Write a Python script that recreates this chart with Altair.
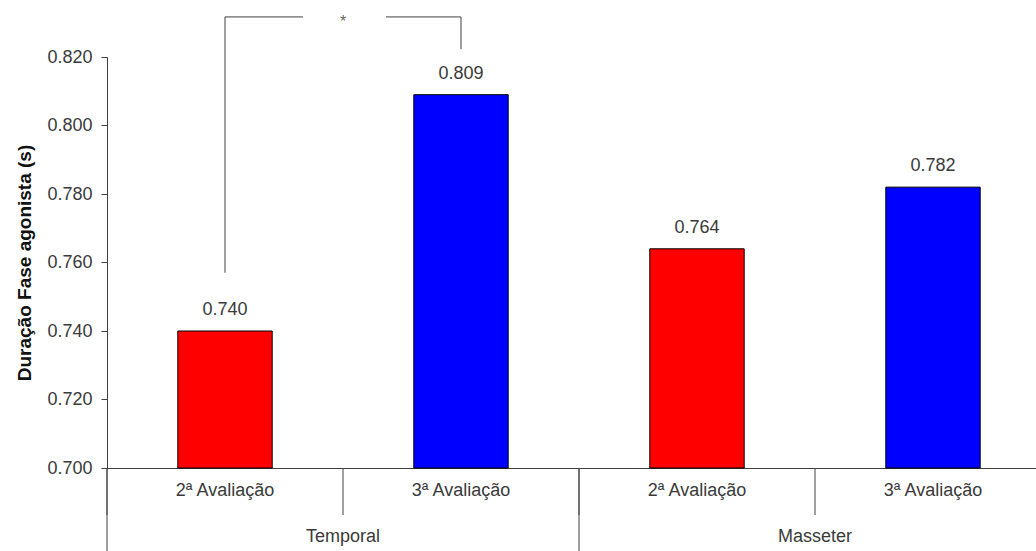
import altair as alt
import pandas as pd

# Mean duration of the agonist phase per muscle and evaluation
groups = ["Temporal", "Temporal", "Masseter", "Masseter"]
evaluations = ["2ª Avaliação", "3ª Avaliação", "2ª Avaliação", "3ª Avaliação"]
durations = [0.740, 0.809, 0.764, 0.782]
bar_colors = ["#FF0000", "#0000FF", "#FF0000", "#0000FF"]
group_order = ["Temporal", "Masseter"]
y_ticks = [0.700, 0.720, 0.740, 0.760, 0.780, 0.800, 0.820]
y_floor = 0.700

# Significance bracket between the two Temporal evaluations
bracket_pair = ["Temporal|2ª Avaliação", "Temporal|3ª Avaliação"]
bracket_top = 0.8317
bracket_feet = [0.757, 0.8223]
bracket_mark = "*"

keys = [f"{g}|{e}" for g, e in zip(groups, evaluations)]
bars_df = pd.DataFrame({
    "group": groups, "evaluation": evaluations, "key": keys,
    "duration": durations, "color": bar_colors,
})
feet_df = pd.DataFrame({"key": bracket_pair, "foot": bracket_feet, "top": [bracket_top] * 2})
span_df = pd.DataFrame({"a": [bracket_pair[0]], "b": [bracket_pair[1]], "top": [bracket_top]})
star_df = pd.DataFrame({"group": [bracket_pair[0].split("|")[0]], "top": [bracket_top], "t": [bracket_mark]})
slots_df = pd.DataFrame({"slot": keys})
groups_df = pd.DataFrame({"group": group_order})

FONT = "Liberation Sans"
FS = 18
AX = "#404040"
TXT = "#3a3a3a"
RANGE = [0, 944]
H = 411

y_scale = alt.Scale(domain=[y_ticks[0], y_ticks[-1]], nice=False, zero=False)


def bar_scale():
    return alt.Scale(domain=keys, range=RANGE, paddingInner=0.6, paddingOuter=0.3)


def slot_scale():
    return alt.Scale(domain=keys, range=RANGE, paddingInner=0, paddingOuter=0)


def group_scale():
    return alt.Scale(domain=group_order, range=RANGE, paddingInner=0, paddingOuter=0)


y_axis = alt.Axis(
    orient="left",
    title="Duração Fase agonista (s)", values=y_ticks, format=".3f",
    grid=False, tickSize=6, labelPadding=9, domainColor=AX, tickColor=AX,
    labelFont=FONT, labelFontSize=FS, labelColor=TXT,
    titleFont=FONT, titleFontSize=19, titleFontWeight="bold", titleColor="#111111",
    titlePadding=12,
)
x_axis = alt.Axis(
    title=None, orient="bottom", labelAngle=0, grid=False, ticks=False,
    labelExpr="split(datum.value, '|')[1]", labelPadding=13, labelBaseline="top",
    domainColor=AX, labelFont=FONT, labelFontSize=FS, labelColor=TXT,
)


def yq(field):
    # every layer on the value scale carries the same axis definition
    return alt.Y(field, scale=y_scale, axis=y_axis)


bars = alt.Chart(bars_df).mark_bar(stroke="black", strokeWidth=1).encode(
    x=alt.X("key:N", scale=bar_scale(), axis=x_axis, sort=keys),
    y=yq("duration:Q"),
    y2=alt.datum(y_floor),
    color=alt.Color("color:N", scale=None),
)
labels = alt.Chart(bars_df).mark_text(
    font=FONT, fontSize=FS, color=TXT, baseline="middle", dy=-21
).encode(
    x=alt.X("key:N", scale=bar_scale(), axis=None, sort=keys),
    y=yq("duration:Q"),
    text=alt.Text("duration:Q", format=".3f"),
)
feet = alt.Chart(feet_df).mark_rule(color=AX, strokeWidth=1).encode(
    x=alt.X("key:N", scale=bar_scale(), axis=None, sort=keys),
    y=yq("foot:Q"),
    y2="top:Q",
)
span = alt.Chart(span_df).mark_rule(color=AX, strokeWidth=1, strokeDash=[78, 83]).encode(
    x=alt.X("a:N", scale=bar_scale(), axis=None, sort=keys),
    x2="b:N",
    y=yq("top:Q"),
)
star = alt.Chart(star_df).mark_text(
    font=FONT, fontSize=16, color="#666666", baseline="middle", dy=5
).encode(
    x=alt.X("group:N", scale=group_scale(), axis=None, sort=group_order),
    y=yq("top:Q"),
    text="t:N",
)
# dividers between evaluations (short) and between muscles (full depth)
slot_lines = alt.Chart(slots_df).mark_rule(color=AX, strokeWidth=1).encode(
    x=alt.X("slot:N", scale=slot_scale(), axis=None, sort=keys, bandPosition=0),
    y=alt.value(H), y2=alt.value(H + 47),
)
group_lines = alt.Chart(groups_df).mark_rule(color=AX, strokeWidth=1).encode(
    x=alt.X("group:N", scale=group_scale(), axis=None, sort=group_order, bandPosition=0),
    y=alt.value(H), y2=alt.value(H + 83),
)
group_labels = alt.Chart(groups_df).mark_text(
    font=FONT, fontSize=FS, color=TXT, baseline="middle"
).encode(
    x=alt.X("group:N", scale=group_scale(), axis=None, sort=group_order),
    y=alt.value(H + 69),
    text="group:N",
)

chart = alt.layer(
    bars, labels, feet, span, star, slot_lines, group_lines, group_labels
).resolve_scale(x="independent").properties(
    width=929, height=H,
    autosize=alt.AutoSizeParams(type="none"),
    padding={"left": 107, "top": 57, "right": 0, "bottom": 83},
    background="white",
).configure_view(stroke=None)

chart.save("out.html", embed_options={"renderer": "svg", "actions": False})
